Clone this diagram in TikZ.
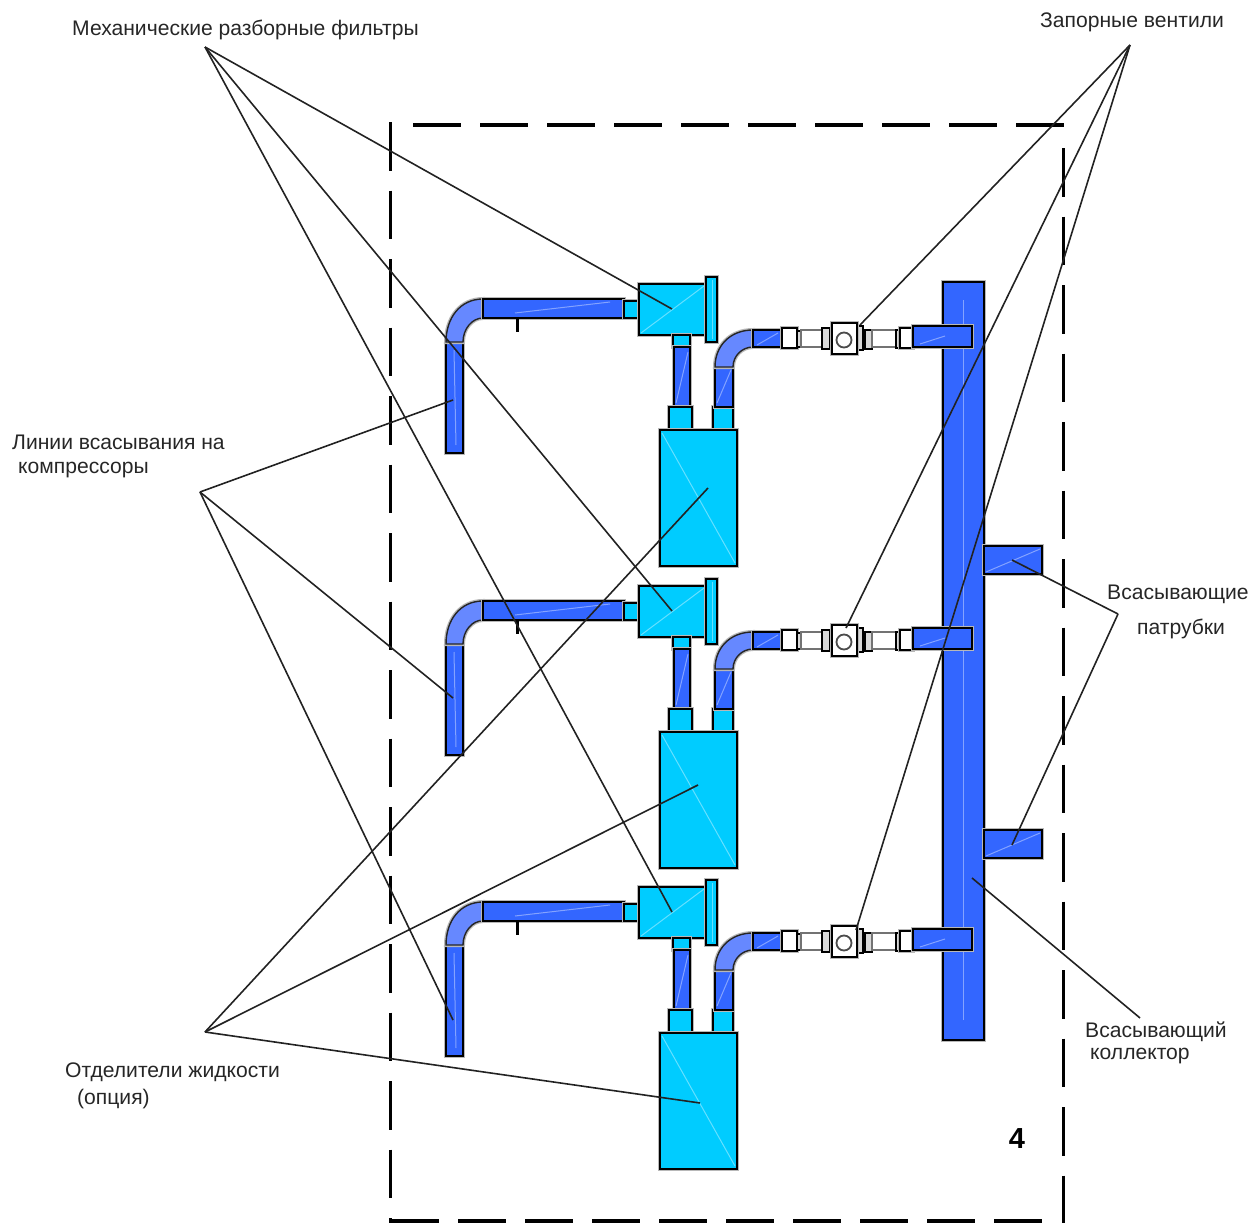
\documentclass[tikz,border=0pt]{standalone}
\usepackage{fontspec}
\setmainfont{Liberation Sans}
\definecolor{pipeblue}{HTML}{3366FF}
\definecolor{elbowblue}{HTML}{6688FF}
\definecolor{partcyan}{HTML}{00CCFF}
\definecolor{leadergrey}{HTML}{222222}
\tikzset{
  halo/.style={preaction={draw=black!28,line width=4pt}},
  pipe/.style={fill=pipeblue,draw=black,line width=2pt,halo},
  elbow/.style={fill=elbowblue,draw=black!85,line width=1.4pt,halo},
  part/.style={fill=partcyan,draw=black,line width=2pt,halo},
  gleam/.style={draw=white,opacity=.4,line width=1pt},
  fitting/.style={fill=white,draw=black,line width=1.8pt,halo},
  softfit/.style={fill=white,draw=black!55,line width=1.8pt},
  strip/.style={fill=black!15,draw=black,line width=1.4pt},
  leader/.style={draw=leadergrey,line width=1.6pt},
  sideline/.style={draw=black,line width=3pt,dash pattern=on 48.5pt off 20pt},
  crossline/.style={draw=black,line width=3.6pt,dash pattern=on 48pt off 19pt},
  lbl/.style={anchor=west,inner sep=0pt,font=\fontsize{21.1}{25}\selectfont,text=black!85}
}
\begin{document}
\begin{tikzpicture}[x=1pt,y=-1pt]
\useasboundingbox (0,0) rectangle (1259,1223);
% collector
\draw[pipe] (943,282) rectangle (984,1040);
\draw[gleam] (963,300) -- (963,1020);
\draw[pipe] (984,546) rectangle (1042,574);
\draw[gleam] (986,572) -- (1040,549);
\draw[pipe] (984,830) rectangle (1042,858);
\draw[gleam] (986,856) -- (1040,833);
% three units
\foreach \n/\dy in {1/0,2/302,3/603}{
\begin{scope}[yshift=-\dy pt]
  % suction line to compressor
  \draw[pipe] (446,342) rectangle (463,453);
  \draw[gleam] (454,350) -- (456,445);
  \draw[elbow] (446,342) .. controls (446,318) and (460,299) .. (483,299) -- (483,318) .. controls (472,318) and (463,329) .. (463,342) -- cycle;
  \draw[pipe] (483,299) rectangle (624,318);
  \draw[gleam] (515,313) -- (610,302);
  \draw[draw=black,line width=3pt] (517,318) -- (517,332);
  \draw[part] (624,301) rectangle (639,318);
  % filter
  \draw[part] (639,284) rectangle (706,335);
  \draw[gleam] (641,333) -- (704,286);
  \draw[part] (706,277) rectangle (717,342);
  \draw[gleam] (712,280) -- (712,339);
  % pipes to separator
  \draw[part] (673,335) rectangle (690,347);
  \draw[pipe] (674,347) rectangle (690,407);
  \draw[gleam] (676,403) -- (688,352);
  \draw[part] (669,407) rectangle (692,430);
  \draw[part] (713,407) rectangle (733,430);
  \draw[pipe] (715,367) rectangle (733,407);
  \draw[gleam] (717,403) -- (731,370);
  \draw[elbow] (715,367) .. controls (715,346) and (730,330) .. (753,330) -- (753,347) .. controls (742,347) and (733,356) .. (733,367) -- cycle;
  % separator
  \draw[part] (660,430) rectangle (737,566);
  \draw[gleam] (662,433) -- (735,563);
  % valve run
  \draw[pipe] (753,330) rectangle (782,347);
  \draw[gleam] (757,345) -- (778,333);
  \draw[fitting] (782,328) rectangle (797,348);
  \draw[strip] (797,331) rectangle (801,347);
  \draw[softfit] (801,330) rectangle (822,347);
  \draw[strip] (822,328) rectangle (830,349);
  \draw[strip] (857,326) rectangle (863,350);
  \draw[strip] (865,330) rectangle (872,349);
  \draw[softfit] (872,330) rectangle (896,347);
  \draw[strip] (896,330) rectangle (900,348);
  \draw[fitting] (900,328) rectangle (913,348);
  \draw[pipe] (913,326) rectangle (972,347);
  \draw[gleam] (920,344) -- (945,336);
  \draw[fitting,line width=2.2pt] (832,323) rectangle (857,354);
  \draw[draw=black!70,line width=1.8pt] (844,340) circle[radius=7.5];
  \coordinate (filter\n) at (672,309);
\end{scope}
}
% frame
\draw[crossline] (413,125) -- (1065,125);
\draw[sideline] (390,122) -- (390,1223);
\draw[sideline] (1063,148) -- (1063,1223);
\draw[crossline] (391,1221) -- (1043,1221);
% labels
\node[lbl] (tfilter) at (72,30) {Механические разборные фильтры};
\node[lbl] (tvalve) at (1040,22) {Запорные вентили};
\node[lbl] (tline1) at (12,442) {Линии всасывания на};
\node[lbl] (tline2) at (18,470) {компрессоры};
\node[lbl] (tnoz1) at (1107,594) {Всасывающие};
\node[lbl] (tnoz2) at (1137,629) {патрубки};
\node[lbl] (tcol1) at (1085,1032) {Всасывающий};
\node[lbl] (tcol2) at (1090,1056) {коллектор};
\node[lbl] (tsep1) at (65,1072) {Отделители жидкости};
\node[lbl] (tsep2) at (77,1099) {(опция)};
\node[anchor=center,inner sep=0pt,font=\bfseries\fontsize{29}{32}\selectfont] (tfour) at (1017,1139) {4};
% leader hubs
\coordinate (hubF) at (205,47);
\coordinate (hubV) at (1130,45);
\coordinate (hubL) at (200,492);
\coordinate (hubS) at (205,1032);
\coordinate (hubN) at (1118,614);
\coordinate (hubC) at (1140,1018);
\coordinate (valve1) at (860,325);
\coordinate (valve2) at (846,628);
\coordinate (valve3) at (856,930);
\coordinate (lin1) at (453,400);
\coordinate (lin2) at (453,698);
\coordinate (lin3) at (453,1020);
\coordinate (sep1) at (708,488);
\coordinate (sep2) at (698,785);
\coordinate (sep3) at (700,1103);
\coordinate (noz1) at (1012,560);
\coordinate (noz2) at (1012,845);
\coordinate (colT) at (972,878);
\foreach \n in {1,2,3}{
  \draw[leader] (hubF) -- (filter\n);
  \draw[leader] (hubV) -- (valve\n);
  \draw[leader] (hubL) -- (lin\n);
  \draw[leader] (hubS) -- (sep\n);
}
\draw[leader] (hubN) -- (noz1);
\draw[leader] (hubN) -- (noz2);
\draw[leader] (hubC) -- (colT);
\end{tikzpicture}
\end{document}
